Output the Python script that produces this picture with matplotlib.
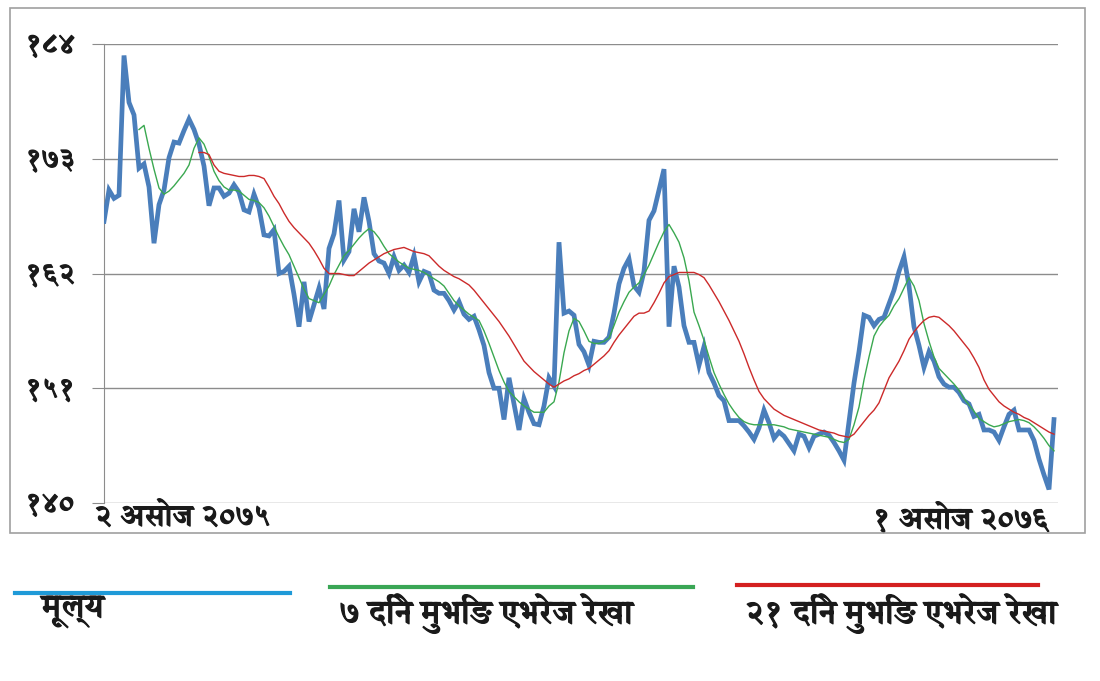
import matplotlib
matplotlib.use("Agg")
import matplotlib.pyplot as plt
import matplotlib.patheffects as pe
from matplotlib.lines import Line2D
from matplotlib.patches import Rectangle
import numpy as np

# daily closing price and its 7 and 21 day moving averages
price = [167.0, 170.0, 169.2, 169.5, 182.9, 178.4, 177.2, 172.1, 172.5, 170.3,
         164.9, 168.6, 170.0, 173.1, 174.6, 174.5, 175.7, 176.8, 175.8, 174.4,
         172.3, 168.5, 170.2, 170.2, 169.4, 169.7, 170.5, 169.8, 168.1, 167.9,
         169.6, 168.3, 165.7, 165.6, 166.2, 162.0, 162.2, 162.7, 160.0, 156.9,
         161.2, 157.4, 159.0, 160.6, 158.6, 164.4, 165.8, 169.0, 163.3, 164.1,
         168.2, 166.0, 169.3, 167.0, 163.9, 163.2, 163.0, 162.0, 163.6, 162.3,
         162.8, 162.1, 163.7, 161.2, 162.2, 162.0, 160.4, 160.1, 160.1, 159.4,
         158.5, 159.3, 158.1, 157.6, 157.9, 156.6, 155.1, 152.5, 151.0, 151.0,
         148.0, 152.0, 149.5, 147.0, 150.0, 148.7, 147.6, 147.5, 149.3, 152.0,
         151.2, 165.0, 158.2, 158.4, 158.0, 155.2, 154.5, 153.2, 155.5, 155.4,
         155.4, 155.9, 158.2, 161.0, 162.5, 163.4, 160.8, 160.2, 162.2, 167.1,
         168.0, 170.0, 172.0, 156.9, 162.7, 160.7, 157.0, 155.4, 155.4, 153.2,
         155.0, 152.5, 151.5, 150.3, 149.8, 147.9, 147.9, 147.9, 147.4, 146.8,
         146.1, 147.2, 148.9, 147.7, 146.2, 146.8, 146.4, 145.7, 145.0, 146.6,
         146.4, 145.3, 146.4, 146.6, 146.8, 146.5, 145.8, 145.0, 144.1, 147.8,
         151.5, 154.5, 158.0, 157.8, 157.0, 157.6, 157.8, 159.1, 160.4, 162.2,
         163.6, 160.8, 156.9, 155.1, 153.0, 154.5, 153.6, 152.1, 151.4, 151.1,
         151.1, 150.6, 149.8, 149.5, 148.3, 148.5, 147.0, 147.0, 146.8, 146.0,
         147.3, 148.5, 148.9, 147.0, 147.0, 147.0, 146.0, 144.2, 142.7, 141.3,
         148.0]

ma7_start = 7
ma7 = [175.8, 176.2, 174.0, 172.0, 170.2, 169.6, 169.9, 170.4, 171.0, 171.6,
       172.4, 174.0, 175.0, 174.4, 173.2, 171.8, 170.9, 170.3, 170.0, 170.0,
       169.9, 169.5, 169.1, 169.0, 168.8, 168.3, 167.5, 166.5, 165.5, 164.6,
       163.8, 162.7, 161.6, 160.5, 159.6, 159.4, 159.2, 160.0, 160.8, 161.9,
       162.8, 163.7, 164.2, 164.8, 165.4, 165.9, 166.3, 166.0, 165.4, 164.6,
       163.9, 163.5, 163.1, 162.8, 162.5, 162.4, 162.3, 162.1, 161.8, 161.5,
       161.2, 160.8, 160.1, 159.4, 158.9, 158.5, 158.1, 157.8, 157.5, 156.5,
       155.3, 154.0, 152.7, 151.6, 150.7, 150.2, 149.7, 149.3, 149.0, 148.7,
       148.7, 148.7, 149.3, 149.7, 151.6, 154.4, 156.5, 157.7, 157.4, 156.5,
       155.5, 155.3, 155.3, 155.5, 155.8, 157.0, 158.3, 159.3, 160.2, 160.7,
       161.1, 161.9, 162.8, 163.9, 165.0, 166.0, 166.7, 165.9, 165.0, 163.5,
       161.3, 158.3, 157.0, 155.6, 154.0, 152.5, 151.4, 150.4, 149.5, 148.8,
       148.2, 147.8, 147.6, 147.5, 147.5, 147.5, 147.5, 147.5, 147.4, 147.3,
       147.1, 147.0, 146.9, 146.8, 146.7, 146.6, 146.5, 146.4, 146.3, 146.1,
       145.9, 145.8, 146.1, 147.5, 149.2, 151.8, 154.0, 156.0, 156.9, 157.5,
       158.0, 158.9, 159.6, 160.6, 161.6, 160.8, 159.4, 157.2, 155.5, 154.0,
       152.9, 152.4, 151.9, 151.4, 150.8, 150.0, 149.4, 148.8, 148.1, 147.8,
       147.5, 147.3, 147.4, 147.6, 147.8, 147.9, 148.0, 147.9, 147.7, 147.3,
       146.8, 146.2, 145.5, 145.0]

ma21_start = 19
ma21 = [173.6, 173.6, 173.4, 172.4, 171.8, 171.6, 171.5, 171.4, 171.3, 171.3,
        171.4, 171.4, 171.3, 171.1, 170.3, 169.4, 168.7, 167.8, 167.0, 166.4,
        165.9, 165.4, 164.9, 164.2, 163.4, 162.5, 162.0, 162.0, 162.0, 161.9,
        161.8, 161.8, 162.2, 162.6, 163.0, 163.3, 163.6, 163.9, 164.1, 164.3,
        164.4, 164.5, 164.3, 164.1, 164.0, 163.9, 163.7, 163.2, 162.7, 162.3,
        162.0, 161.7, 161.5, 161.2, 160.9, 160.4, 159.8, 159.2, 158.6, 158.0,
        157.4, 156.7, 156.0, 155.2, 154.4, 153.6, 153.1, 152.6, 152.2, 151.8,
        151.4, 151.1, 151.4, 151.7, 151.9, 152.2, 152.4, 152.7, 152.9, 153.3,
        153.7, 154.1, 154.6, 155.4, 156.1, 156.7, 157.3, 157.9, 158.2, 158.2,
        158.4, 159.2, 160.1, 161.1, 161.7, 161.9, 162.1, 162.1, 162.1, 162.1,
        161.9, 161.6, 160.9, 160.1, 159.3, 158.4, 157.5, 156.5, 155.5, 154.3,
        153.0, 151.8, 150.7, 150.0, 149.5, 149.0, 148.7, 148.4, 148.2, 148.0,
        147.8, 147.6, 147.4, 147.2, 147.0, 146.9, 146.8, 146.7, 146.5, 146.4,
        146.3, 146.6, 147.2, 147.8, 148.4, 148.9, 149.6, 150.8, 152.0, 152.8,
        153.6, 154.6, 155.7, 156.4, 157.0, 157.5, 157.8, 157.9, 157.8, 157.4,
        157.0, 156.5, 155.9, 155.3, 154.7, 153.9, 153.0, 151.8, 150.9, 150.3,
        149.7, 149.3, 149.0, 148.7, 148.5, 148.2, 148.0, 147.7, 147.4, 147.1,
        146.8, 146.6]

y_ticks = [140, 151, 162, 173, 184]
y_labels = ["१४०", "१५१", "१६२", "१७३", "१८४"]
date_first = "२ असोज २०७५"
date_last = "१ असोज २०७६"
legend_labels = ["मूल्य", "७ दिने मुभिङ एभरेज रेखा", "२१ दिने मुभिङ एभरेज रेखा"]

plt.rcParams["font.family"] = ["Annapurna SIL", "DejaVu Sans"]
heavy = [pe.withStroke(linewidth=0.9, foreground="#1a1a1a")]

fig = plt.figure(figsize=(11, 6.81), dpi=100)
fig.patches.append(Rectangle((10 / 1100, 1 - 533 / 681), 1075 / 1100, 525 / 681,
                             transform=fig.transFigure, fill=False,
                             edgecolor="#a0a0a0", lw=1.2))

ax = fig.add_axes([104 / 1100, 178 / 681, 954 / 1100, 459 / 681])
days = np.arange(len(price))
ax.plot(days, price, color="#4a7ebb", lw=3.4, solid_joinstyle="miter", zorder=3)
ax.plot(np.arange(ma7_start, ma7_start + len(ma7)), ma7, color="#3aa850", lw=1.0, zorder=4)
ax.plot(np.arange(ma21_start, ma21_start + len(ma21)), ma21, color="#cc2a2a", lw=1.0, zorder=4)

ax.set_xlim(0, 190.8)
ax.set_ylim(140, 184)
ax.set_yticks(y_ticks)
ax.set_yticklabels(y_labels, fontsize=20, fontweight="bold", color="#1a1a1a",
                   path_effects=heavy)
ax.set_xticks([])
ax.grid(axis="y", color="#8c8c8c", lw=1.0)
for side in ["top", "right", "bottom"]:
    ax.spines[side].set_visible(False)
ax.spines["left"].set_color("#8c8c8c")
ax.tick_params(axis="y", length=9, color="#8c8c8c", pad=12)

ax.text(-0.01, 0.0, date_first, transform=ax.transAxes, ha="left", va="top",
        fontsize=21, fontweight="bold", color="#1a1a1a", path_effects=heavy)
ax.text(0.99, 0.0, date_last, transform=ax.transAxes, ha="right", va="top",
        fontsize=21, fontweight="bold", color="#1a1a1a", path_effects=heavy)

legend_colors = ["#1f9ad8", "#3aa655", "#d42020"]
legend_lines = [(15, 290, 593), (330, 693, 587), (737, 1038, 585)]
legend_text = [(42, 612), (340, 614), (745, 614)]
for lab, col, (x0, x1, yl), (xt, yt) in zip(legend_labels, legend_colors, legend_lines, legend_text):
    fig.add_artist(Line2D([x0 / 1100, x1 / 1100], [1 - yl / 681, 1 - yl / 681],
                          transform=fig.transFigure, color=col, lw=3))
    fig.text(xt / 1100, 1 - yt / 681, lab, ha="left", va="center",
             fontsize=23, fontweight="bold", color="#1a1a1a", path_effects=heavy)

fig.savefig("out.png", dpi=100)
